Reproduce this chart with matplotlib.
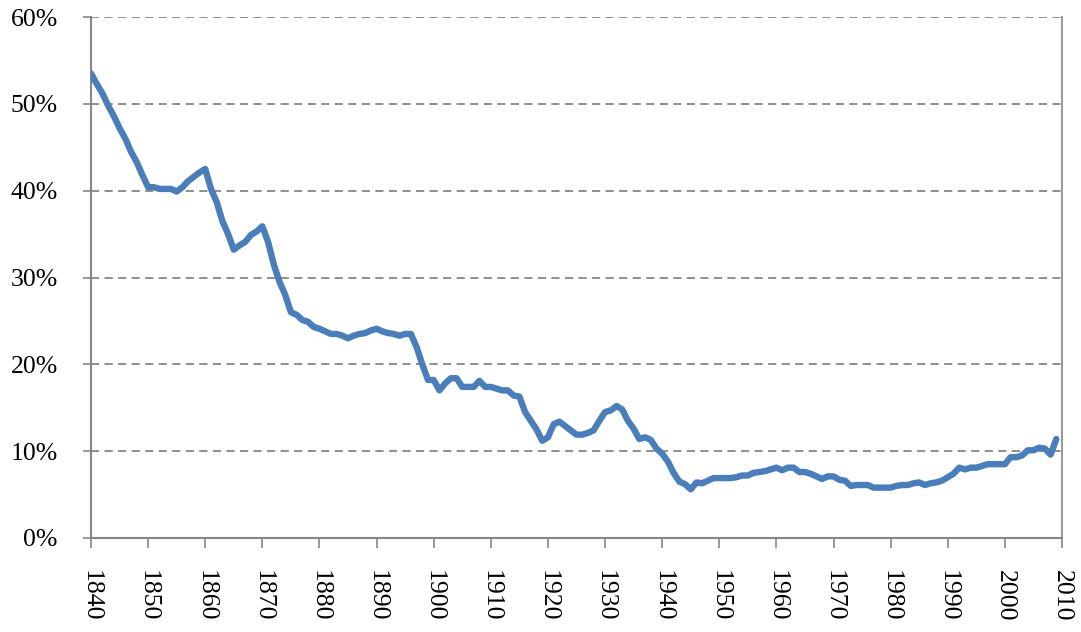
import matplotlib
matplotlib.use("Agg")
import matplotlib.pyplot as plt
from matplotlib.ticker import FuncFormatter

years = list(range(1840, 2010))
share = [
    53.5, 52.3, 51.2, 49.8, 48.6, 47.2, 46.0, 44.5, 43.3, 41.8,
    40.4, 40.4, 40.2, 40.2, 40.2, 39.9, 40.4, 41.1, 41.6, 42.1,
    42.5, 40.2, 38.7, 36.5, 35.0, 33.2, 33.7, 34.1, 34.9, 35.3,
    35.9, 34.1, 31.5, 29.5, 28.0, 26.0, 25.7, 25.1, 24.9, 24.3,
    24.1, 23.8, 23.5, 23.5, 23.3, 23.0, 23.3, 23.5, 23.6, 23.9,
    24.1, 23.8, 23.6, 23.5, 23.3, 23.5, 23.5, 22.0, 20.0, 18.2,
    18.2, 17.0, 17.8, 18.4, 18.4, 17.4, 17.4, 17.4, 18.1, 17.4,
    17.4, 17.2, 17.0, 17.0, 16.4, 16.3, 14.5, 13.5, 12.5, 11.2,
    11.6, 13.1, 13.4, 12.9, 12.4, 11.9, 11.9, 12.1, 12.4, 13.5,
    14.5, 14.7, 15.2, 14.8, 13.5, 12.6, 11.4, 11.6, 11.3, 10.3,
    9.7, 8.8, 7.5, 6.5, 6.2, 5.6, 6.4, 6.3, 6.6, 6.9,
    6.9, 6.9, 6.9, 7.0, 7.2, 7.2, 7.5, 7.6, 7.7, 7.9,
    8.1, 7.8, 8.1, 8.1, 7.6, 7.6, 7.4, 7.1, 6.8, 7.1,
    7.1, 6.7, 6.6, 6.0, 6.1, 6.1, 6.1, 5.8, 5.8, 5.8,
    5.8, 6.0, 6.1, 6.1, 6.3, 6.4, 6.1, 6.3, 6.4, 6.6,
    7.0, 7.4, 8.1, 7.9, 8.1, 8.1, 8.3, 8.5, 8.5, 8.5,
    8.5, 9.3, 9.3, 9.5, 10.1, 10.1, 10.4, 10.3, 9.6, 11.4,
]
x_ticks = list(range(1840, 2011, 10))
y_ticks = [0, 10, 20, 30, 40, 50, 60]

plt.rcParams['font.family'] = ['Liberation Serif', 'DejaVu Serif']

fig = plt.figure(figsize=(10.81, 6.32), dpi=100)
ax = fig.add_axes([91/1081, 1 - 538/632, (1062 - 91)/1081, (538 - 17)/632])

ax.plot(years, share, color='#4a7ebb', lw=4.6, solid_joinstyle='round', solid_capstyle='round', zorder=3)

ax.set_xlim(1840, 2010)
ax.set_ylim(0, 60)
ax.set_xticks(x_ticks)
ax.set_yticks(y_ticks)
ax.yaxis.set_major_formatter(FuncFormatter(lambda v, p: f"{int(v)}%"))
ax.set_xticklabels([str(t) for t in x_ticks], rotation=270)

for v in y_ticks[1:]:
    ax.axhline(v, color='#868686', lw=1.3, ls=(0, (4.5, 3)), zorder=1)

for s in ['left', 'bottom', 'right']:
    ax.spines[s].set_color('#868686')
    ax.spines[s].set_linewidth(1.5)
ax.spines['right'].set_linewidth(1.2)
ax.spines['top'].set_visible(False)

ax.tick_params(axis='x', direction='out', length=7, width=1.2, color='#868686',
               labelsize=18.5, pad=16)
ax.tick_params(axis='y', direction='out', length=6, width=1.2, color='#868686',
               labelsize=18.5, pad=18)

fig.savefig('out.png', dpi=100)
